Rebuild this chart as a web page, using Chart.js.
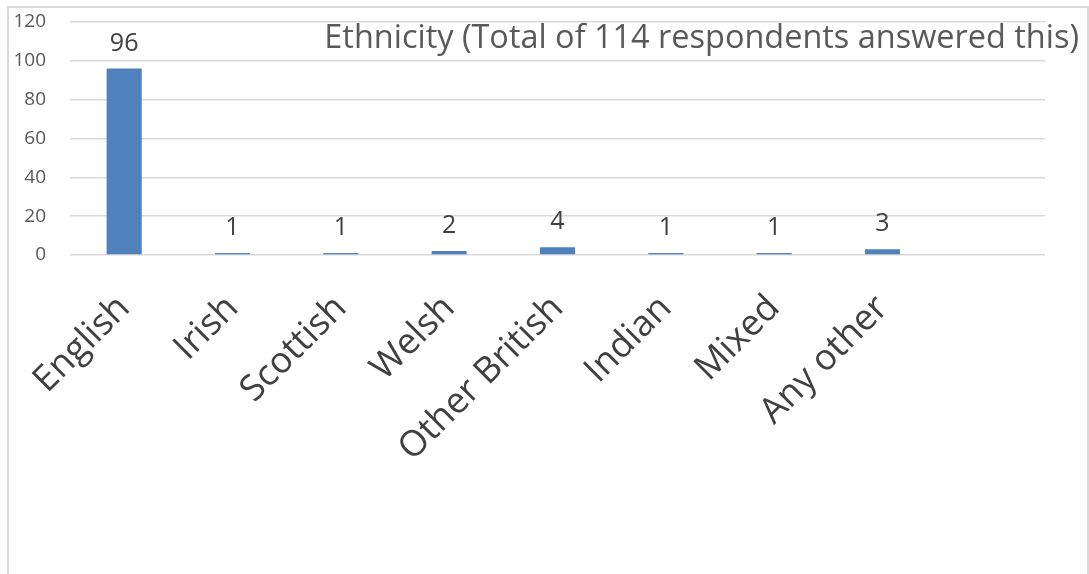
<!DOCTYPE html>
<html>
<head>
<meta charset="utf-8">
<script src="https://cdn.jsdelivr.net/npm/chart.js@4"></script>
<style>
  body { margin: 0; background: #fff; }
  #frame {
    position: absolute; left: 7px; top: 6px; width: 1078px; height: 600px;
    border: 2px solid #d9d9d9; border-bottom: none;
  }
  #wrap { position: absolute; left: 0; top: 0; width: 1089px; height: 574px; }
</style>
</head>
<body>
<div id="frame"></div>
<div id="wrap"><canvas id="bar-chart"></canvas></div>
<script>
// Data for the chart
const categories = ["English", "Irish", "Scottish", "Welsh", "Other British", "Indian", "Mixed", "Any other", ""];
const counts = [96, 1, 1, 2, 4, 1, 1, 3, null];
const yTicks = [0, 20, 40, 60, 80, 100, 120];
const chartTitle = "Ethnicity (Total of 114 respondents answered this)";

const FONT = "'Open Sans', sans-serif";

// Title drawn in the top right corner, over the plot
const titlePlugin = {
  id: "cornerTitle",
  afterDraw(chart) {
    const c = chart.ctx;
    c.save();
    // fit the text to the width it takes in the picture
    c.font = "100px " + FONT;
    const w = c.measureText(chartTitle).width;
    const size = 100 * 755 / w;
    c.font = size + "px " + FONT;
    c.fillStyle = "#595959";
    c.textAlign = "right";
    c.textBaseline = "alphabetic";
    c.fillText(chartTitle, chart.width - 10, 48);
    c.restore();
  }
};

// Value labels above the bars
const valueLabels = {
  id: "valueLabels",
  afterDatasetsDraw(chart) {
    const c = chart.ctx;
    const meta = chart.getDatasetMeta(0);
    c.save();
    c.font = "25px " + FONT;
    c.fillStyle = "#404040";
    c.textAlign = "center";
    c.textBaseline = "alphabetic";
    meta.data.forEach((bar, i) => {
      if (counts[i] == null) return;
      c.fillText(String(counts[i]), bar.x, bar.y - 18);
    });
    c.restore();
  }
};

let ctx = document.getElementById("bar-chart").getContext("2d");
let barChart = new Chart(ctx, {
  type: "bar",
  data: {
    labels: categories,
    datasets: [
      {
        label: "Ethnicity",
        data: counts,
        backgroundColor: "#4f81bd",
        borderWidth: 0,
        barPercentage: 0.9,
        categoryPercentage: 0.36,
      },
    ],
  },
  options: {
    responsive: true,
    maintainAspectRatio: false,
    animation: false,
    layout: { padding: { top: 22, right: 44, left: 0, bottom: 0 } },
    plugins: {
      legend: { display: false },
      tooltip: { enabled: false },
      title: { display: false },
    },
    scales: {
      x: {
        grid: { display: false },
        border: { display: false },
        ticks: {
          color: "#404040",
          font: { family: FONT, size: 36 },
          autoSkip: false,
          maxRotation: 45,
          minRotation: 45,
          padding: 24,
        },
        afterFit(scale) { scale.height = 319; },
      },
      y: {
        min: 0,
        max: 120,
        afterBuildTicks(scale) { scale.ticks = yTicks.map(v => ({ value: v })); },
        grid: { color: "#d9d9d9", lineWidth: 1.5, drawTicks: false },
        border: { display: false },
        ticks: {
          color: "#595959",
          font: { family: FONT, size: 19 },
          padding: 24,
        },
        afterFit(scale) {
          scale.width = 70;
          // the tick padding is horizontal only here
          scale.paddingTop = 11;
          scale.paddingBottom = 11;
        },
      },
    },
  },
  plugins: [titlePlugin, valueLabels],
});
</script>
</body>
</html>
